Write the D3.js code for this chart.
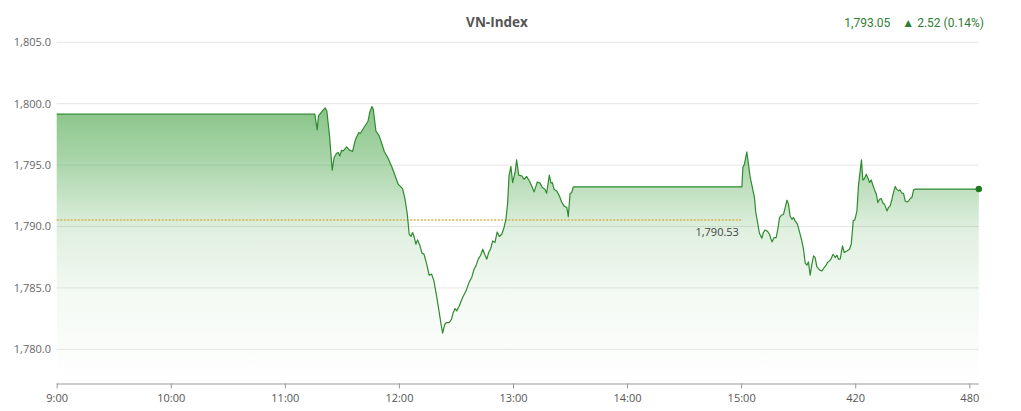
<!DOCTYPE html>
<html>
<head>
<meta charset="utf-8">
<script src="https://cdn.jsdelivr.net/npm/d3@7"></script>
<style>
  body { margin: 0; background: #fff; }
  svg { display: block; font-family: "Open Sans", sans-serif; }
</style>
</head>
<body>
<svg id="chart" width="1021" height="411"></svg>
<script>
// chart text
const chartTitle = "VN-Index";
const lastValueText = "1,793.05";
const changeText = "\u25B2 2.52 (0.14%)";

// axis ticks (x in minutes from 9:00)
const xTickMinutes = [0, 60, 120, 180, 240, 300, 360, 420, 480];
const xTickLabels = ["9:00", "10:00", "11:00", "12:00", "13:00", "14:00", "15:00", "420", "480"];
const yTicks = [1780, 1785, 1790, 1795, 1800, 1805];

// reference (previous close)
const refValue = 1790.53;
const refEndMinute = 360.4;

// series: [minute, index]
const series = [
  [0, 1799.15], [135.8, 1799.15], [137.0, 1797.87], [137.7, 1799.01], [140.2, 1799.50], [141.2, 1799.66],
  [142.1, 1799.39], [143.5, 1797.38], [144.9, 1794.58], [145.9, 1795.62], [147.2, 1795.97], [148.1, 1796.03],
  [148.9, 1795.75], [149.8, 1796.21], [150.7, 1796.16], [152.5, 1796.48], [153.8, 1796.24], [155.6, 1796.11],
  [157.2, 1797.11], [158.9, 1797.65], [159.7, 1797.57], [161.6, 1798.06], [163.7, 1798.55], [164.7, 1799.33],
  [165.8, 1799.77], [166.5, 1799.55], [167.9, 1797.78], [169.6, 1797.38], [171.1, 1796.70], [172.3, 1796.11],
  [174.1, 1795.62], [176.2, 1794.89], [177.9, 1794.18], [179.6, 1793.44], [180.5, 1793.31], [181.9, 1793.09],
  [183.2, 1792.22], [184.4, 1791.00], [185.4, 1789.37], [186.3, 1789.19], [187.2, 1789.51], [188.1, 1789.10],
  [188.9, 1788.56], [189.8, 1788.91], [191.1, 1788.42], [192.1, 1787.83], [193.2, 1787.74], [194.6, 1786.93],
  [195.9, 1786.03], [197.2, 1786.12], [198.4, 1785.57], [199.8, 1784.35], [201.2, 1783.00], [202.3, 1781.91],
  [203.0, 1781.31], [204.1, 1782.04], [205.1, 1782.18], [206.5, 1782.18], [207.7, 1782.45], [208.6, 1783.00],
  [209.5, 1783.32], [210.4, 1783.13], [211.7, 1783.53], [213.5, 1784.22], [215.3, 1784.76], [217.0, 1785.49],
  [218.3, 1785.85], [219.5, 1786.52], [220.5, 1786.79], [221.7, 1787.34], [223.0, 1787.66], [224.1, 1788.15],
  [225.1, 1787.74], [226.2, 1787.34], [227.2, 1787.88], [228.3, 1788.21], [229.3, 1788.83], [230.5, 1788.70],
  [231.7, 1789.56], [232.8, 1789.19], [234.1, 1789.37], [235.3, 1789.92], [236.3, 1790.59], [237.2, 1791.95],
  [237.9, 1794.12], [238.9, 1794.89], [239.8, 1793.58], [241.1, 1794.40], [241.9, 1795.42], [243.0, 1794.18],
  [244.6, 1794.12], [245.8, 1793.85], [247.2, 1794.07], [248.6, 1793.71], [249.8, 1793.31], [251.1, 1792.82],
  [252.8, 1793.63], [254.2, 1793.53], [255.4, 1793.18], [256.8, 1793.04], [257.7, 1792.71], [259.1, 1794.18],
  [260.0, 1793.53], [260.7, 1793.58], [261.6, 1793.04], [263.0, 1792.90], [264.4, 1792.49], [265.6, 1792.00],
  [266.8, 1791.68], [268.3, 1791.55], [269.1, 1790.81], [270.0, 1792.69], [270.9, 1792.77], [271.7, 1793.22],
  [360.4, 1793.22], [360.9, 1794.80], [361.7, 1795.07], [363.0, 1796.07], [363.5, 1795.48], [364.7, 1794.07],
  [365.9, 1793.18], [367.0, 1792.36], [367.7, 1791.14], [368.8, 1790.19], [369.6, 1789.45], [370.9, 1789.05],
  [371.7, 1789.51], [372.6, 1789.72], [373.8, 1789.62], [374.9, 1789.37], [376.2, 1788.75], [377.4, 1789.10],
  [378.4, 1789.10], [379.3, 1789.78], [380.2, 1790.73], [381.2, 1790.92], [382.3, 1791.00], [383.2, 1791.55],
  [384.1, 1792.14], [384.9, 1791.82], [385.8, 1790.81], [386.7, 1790.59], [387.5, 1790.73], [388.4, 1790.46],
  [389.6, 1790.19], [390.7, 1789.56], [391.9, 1788.83], [392.8, 1788.15], [393.7, 1787.01], [394.6, 1786.85],
  [395.4, 1787.12], [396.3, 1786.03], [397.2, 1786.93], [398.1, 1787.61], [398.9, 1787.48], [399.8, 1786.74],
  [401.2, 1786.47], [402.5, 1786.38], [403.7, 1786.66], [404.7, 1786.85], [405.4, 1787.07], [406.5, 1787.20],
  [407.4, 1787.39], [408.3, 1787.74], [409.5, 1787.48], [410.4, 1787.66], [411.2, 1787.34], [412.1, 1787.34],
  [413.3, 1788.42], [414.2, 1787.88], [415.6, 1788.01], [417.0, 1788.15], [417.9, 1788.56], [418.6, 1789.78],
  [418.9, 1790.46], [419.8, 1790.54], [420.9, 1791.27], [421.7, 1793.31], [422.6, 1794.53], [423.3, 1795.42],
  [424.0, 1793.79], [424.9, 1793.91], [425.8, 1794.26], [426.8, 1793.91], [427.5, 1793.58], [428.4, 1793.79],
  [429.3, 1793.36], [430.2, 1792.98], [431.1, 1792.63], [431.9, 1791.95], [432.8, 1792.22], [433.7, 1792.28],
  [434.6, 1791.90], [435.4, 1791.82], [436.7, 1791.27], [437.5, 1791.55], [438.4, 1791.68], [439.3, 1792.22],
  [440.2, 1792.82], [441.1, 1793.26], [441.8, 1793.04], [442.8, 1792.90], [443.5, 1792.98], [444.6, 1792.71],
  [445.4, 1792.69], [446.3, 1792.08], [447.2, 1792.00], [448.1, 1792.08], [448.9, 1792.28], [449.8, 1792.36],
  [450.7, 1792.98], [451.6, 1793.05], [485, 1793.05]
];

const svg = d3.select("#chart");
const lineColor = "#2f8a2f";
const plotBottom = 383.5;

// scales
const x = d3.scaleLinear().domain([0, 480]).range([56.7, 969.3]);
const y = d3.scaleLinear().domain([1780, 1805]).range([349.3, 42.3]);
const xEnd = x(485);

// gradient for the area
const defs = svg.append("defs");
const grad = defs.append("linearGradient")
  .attr("id", "areaFill")
  .attr("gradientUnits", "userSpaceOnUse")
  .attr("x1", 0).attr("x2", 0)
  .attr("y1", y(1800)).attr("y2", plotBottom);
[[0, 0.62], [0.22, 0.42], [0.45, 0.16], [0.68, 0.06], [1, 0]].forEach(s => {
  grad.append("stop").attr("offset", s[0])
    .attr("stop-color", "#3c9f3c").attr("stop-opacity", s[1]);
});

// gridlines
svg.append("g").selectAll("line")
  .data(yTicks)
  .enter().append("line")
  .attr("x1", x(0)).attr("x2", xEnd)
  .attr("y1", d => y(d)).attr("y2", d => y(d))
  .attr("stroke", "#e6e6e6").attr("stroke-width", 1);

// y labels
svg.append("g").selectAll("text")
  .data(yTicks)
  .enter().append("text")
  .attr("x", 51)
  .attr("y", d => y(d))
  .attr("dy", "0.35em")
  .attr("text-anchor", "end")
  .attr("fill", "#666")
  .style("font-size", "11px")
  .text(d => d3.format(",.1f")(d));

// area + line
const area = d3.area()
  .x(d => x(d[0]))
  .y0(plotBottom)
  .y1(d => y(d[1]));
const line = d3.line()
  .x(d => x(d[0]))
  .y(d => y(d[1]));

svg.append("path")
  .datum(series)
  .attr("d", area)
  .attr("fill", "url(#areaFill)");

// reference line
svg.append("line")
  .attr("x1", x(0)).attr("x2", x(refEndMinute))
  .attr("y1", y(refValue)).attr("y2", y(refValue))
  .attr("stroke", "#d6b34e")
  .attr("stroke-width", 1.3)
  .attr("stroke-dasharray", "2,1.5");

svg.append("text")
  .attr("x", x(refEndMinute) - 3)
  .attr("y", y(refValue) + 16)
  .attr("text-anchor", "end")
  .attr("fill", "#444")
  .style("font-size", "11px")
  .text(d3.format(",.2f")(refValue));

svg.append("path")
  .datum(series)
  .attr("d", line)
  .attr("fill", "none")
  .attr("stroke", lineColor)
  .attr("stroke-width", 1.2)
  .attr("stroke-linejoin", "round");

// last point marker
const last = series[series.length - 1];
svg.append("circle")
  .attr("cx", x(last[0])).attr("cy", y(last[1]))
  .attr("r", 3.2)
  .attr("fill", "#1f7a1f");

// x axis
const xAxis = d3.axisBottom(x)
  .tickValues(xTickMinutes)
  .tickFormat((d, i) => xTickLabels[i])
  .tickSize(5)
  .tickSizeOuter(0);
const gx = svg.append("g")
  .attr("transform", `translate(0,${plotBottom})`)
  .call(xAxis);
gx.select(".domain").attr("d", `M${x(0)},0.5H${xEnd}`).attr("stroke", "#999");
gx.selectAll(".tick line").attr("stroke", "#999");
gx.selectAll(".tick text")
  .attr("fill", "#555")
  .attr("y", 11)
  .style("font-size", "11px")
  .style("font-family", "'Open Sans', sans-serif");

// title
svg.append("text")
  .attr("x", 497)
  .attr("y", 27)
  .attr("text-anchor", "middle")
  .attr("fill", "#555")
  .style("font-size", "13.5px")
  .style("font-weight", "bold")
  .text(chartTitle);

// last value + change
const info = svg.append("text")
  .attr("x", 984)
  .attr("y", 27)
  .attr("text-anchor", "end")
  .attr("fill", "#2e7d32")
  .style("font-family", "Roboto, sans-serif")
  .style("font-size", "12px");
info.append("tspan").text(lastValueText);
info.append("tspan").attr("dx", 12).text(changeText);
</script>
</body>
</html>
